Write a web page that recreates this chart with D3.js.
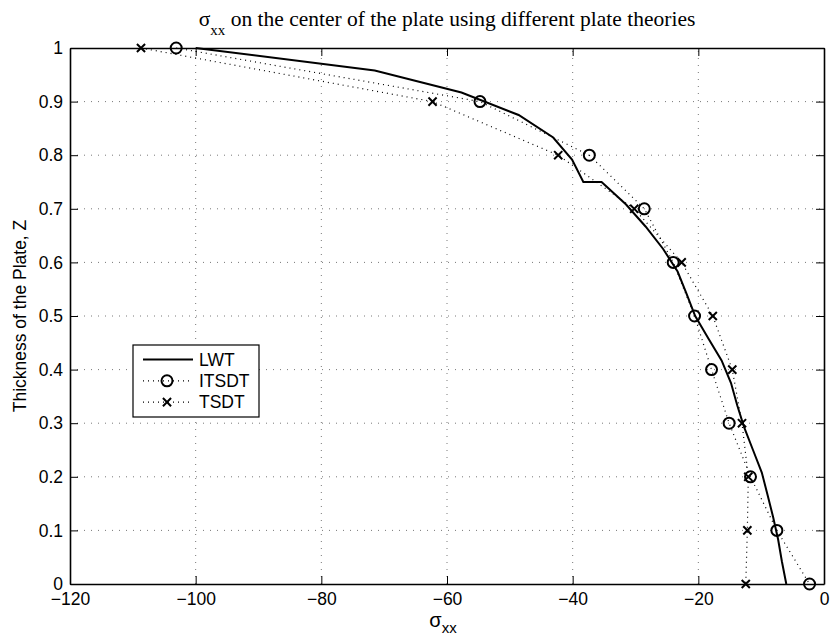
<!DOCTYPE html>
<html>
<head>
<meta charset="utf-8">
<script src="https://cdn.jsdelivr.net/npm/d3@7"></script>
<style>
  body { margin: 0; background: #fff; }
  svg { display: block; }
</style>
</head>
<body>
<div id="content"></div>
<script>
var width = 832, height = 636;

// LWT (solid line)
var lwtZ = [1, 0.958, 0.917, 0.875, 0.833, 0.792, 0.75, 0.75, 0.708, 0.667, 0.625, 0.583, 0.542, 0.5,
  0.458, 0.417, 0.375, 0.333, 0.292, 0.25, 0.208, 0.167, 0.125, 0.083, 0.042, 0];
var lwtS = [-100, -71.5, -57.7, -48.6, -43.1, -40.1, -38.3, -35.4, -31.5, -28.4, -25.6, -23.3, -21.9, -20.5,
  -18.4, -16.3, -14.8, -13.8, -12.7, -11.3, -9.9, -9.0, -8.1, -7.3, -6.7, -6.0];

// ITSDT (dotted, circles) and TSDT (dotted, crosses)
var markZ = [1, 0.9, 0.8, 0.7, 0.6, 0.5, 0.4, 0.3, 0.2, 0.1, 0];
var itsdtS = [-103.1, -54.75, -37.35, -28.6, -24.0, -20.6, -17.9, -15.1, -11.7, -7.5, -2.3];
var tsdtS = [-108.7, -62.3, -42.3, -30.2, -22.65, -17.7, -14.6, -13.05, -12.05, -12.2, -12.45];

var xTicks = [-120, -100, -80, -60, -40, -20, 0];
var yTicks = [0, 0.1, 0.2, 0.3, 0.4, 0.5, 0.6, 0.7, 0.8, 0.9, 1];
var legendNames = ['LWT', 'ITSDT', 'TSDT'];

var svg = d3.select('#content').append('svg')
  .attr('width', width)
  .attr('height', height);

var x = d3.scaleLinear().domain([-120, 0]).range([70, 824]);
var y = d3.scaleLinear().domain([0, 1]).range([584, 48]);

// grid
var grid = svg.append('g');
grid.selectAll('line.gx')
  .data(xTicks.slice(1, -1))
  .enter().append('line')
  .attr('x1', d => x(d)).attr('x2', d => x(d))
  .attr('y1', y(0)).attr('y2', y(1))
  .attr('stroke', '#555').attr('stroke-width', 0.8)
  .attr('stroke-dasharray', '1,6');
grid.selectAll('line.gy')
  .data(yTicks.slice(1, -1))
  .enter().append('line')
  .attr('y1', d => y(d)).attr('y2', d => y(d))
  .attr('x1', x(-120)).attr('x2', x(0))
  .attr('stroke', '#555').attr('stroke-width', 0.8)
  .attr('stroke-dasharray', '1,6');

var line = d3.line()
  .x(d => x(d[0]))
  .y(d => y(d[1]));

var lwtData = lwtS.map((s, i) => [s, lwtZ[i]]);
var itsdtData = itsdtS.map((s, i) => [s, markZ[i]]);
var tsdtData = tsdtS.map((s, i) => [s, markZ[i]]);

svg.append('path')
  .attr('d', line(itsdtData))
  .attr('fill', 'none').attr('stroke', '#000')
  .attr('stroke-width', 1.2).attr('stroke-dasharray', '1,4');
svg.append('path')
  .attr('d', line(tsdtData))
  .attr('fill', 'none').attr('stroke', '#000')
  .attr('stroke-width', 1.2).attr('stroke-dasharray', '1,4');
svg.append('path')
  .attr('d', line(lwtData))
  .attr('fill', 'none').attr('stroke', '#000')
  .attr('stroke-width', 2);

var circleSym = d3.symbol().type(d3.symbolCircle).size(95);
var crossSym = d3.symbol().type(d3.symbolX).size(45);

svg.append('g').selectAll('path')
  .data(itsdtData)
  .enter().append('path')
  .attr('d', circleSym)
  .attr('transform', d => 'translate(' + x(d[0]) + ',' + y(d[1]) + ')')
  .attr('fill', 'none').attr('stroke', '#000').attr('stroke-width', 2);

svg.append('g').selectAll('path')
  .data(tsdtData)
  .enter().append('path')
  .attr('d', crossSym)
  .attr('transform', d => 'translate(' + x(d[0]) + ',' + y(d[1]) + ')')
  .attr('fill', 'none').attr('stroke', '#000').attr('stroke-width', 2);

// axes box with inward ticks
var xAxis = d3.axisBottom(x).tickValues(xTicks).tickSizeInner(-8).tickSizeOuter(0)
  .tickFormat(d => d < 0 ? '\u2212' + Math.abs(d) : d);
var yAxis = d3.axisLeft(y).tickValues(yTicks).tickSizeInner(-8).tickSizeOuter(0)
  .tickFormat(d => d);
var xAxisTop = d3.axisTop(x).tickValues(xTicks).tickSizeInner(-8).tickSizeOuter(0).tickFormat('');
var yAxisRight = d3.axisRight(y).tickValues(yTicks).tickSizeInner(-8).tickSizeOuter(0).tickFormat('');

function styleAxis(g) {
  g.select('.domain').attr('stroke', '#000').attr('stroke-width', 1.6);
  g.selectAll('.tick line').attr('stroke', '#000').attr('stroke-width', 1);
  g.selectAll('.tick text')
    .attr('font-family', 'Liberation Sans, Arial, sans-serif')
    .attr('font-size', 17.5).attr('fill', '#000');
}

svg.append('g').attr('transform', 'translate(0,' + y(0) + ')').call(xAxis).call(styleAxis)
  .selectAll('.tick text').attr('y', 5).attr('dy', '0.9em');
svg.append('g').attr('transform', 'translate(' + x(-120) + ',0)').call(yAxis).call(styleAxis)
  .selectAll('.tick text').attr('x', -7);
svg.append('g').attr('transform', 'translate(0,' + y(1) + ')').call(xAxisTop).call(styleAxis);
svg.append('g').attr('transform', 'translate(' + x(0) + ',0)').call(yAxisRight).call(styleAxis);

// title
var title = svg.append('text')
  .attr('x', (x(-120) + x(0)) / 2).attr('y', 26)
  .attr('text-anchor', 'middle')
  .attr('font-family', 'Liberation Serif, Times New Roman, serif')
  .attr('font-size', 21.5);
title.append('tspan').text('\u03c3');
title.append('tspan').attr('font-size', 15).attr('dy', 9).text('xx');
title.append('tspan').attr('dy', -9).text(' on the center of the plate using different plate theories');

// x label
var xl = svg.append('text')
  .attr('x', (x(-120) + x(0)) / 2 - 4).attr('y', 627)
  .attr('text-anchor', 'middle')
  .attr('font-family', 'Liberation Sans, Arial, sans-serif')
  .attr('font-size', 20);
xl.append('tspan').text('\u03c3');
xl.append('tspan').attr('font-size', 15).attr('dy', 6).text('xx');

// y label
svg.append('text')
  .attr('transform', 'translate(26,' + (y(0) + y(1)) / 2 + ') rotate(-90)')
  .attr('text-anchor', 'middle')
  .attr('font-family', 'Liberation Sans, Arial, sans-serif')
  .attr('font-size', 17.5)
  .text('Thickness of the Plate, Z');

// legend
var lg = svg.append('g').attr('transform', 'translate(133,345)');
lg.append('rect')
  .attr('width', 126).attr('height', 72)
  .attr('fill', '#fff').attr('stroke', '#000').attr('stroke-width', 1.2);
var rows = lg.selectAll('g.row')
  .data(legendNames)
  .enter().append('g')
  .attr('transform', (d, i) => 'translate(0,' + (14.5 + i * 21.3) + ')');
rows.append('line')
  .attr('x1', 10).attr('x2', 60)
  .attr('stroke', '#000')
  .attr('stroke-width', (d, i) => i === 0 ? 2 : 1.2)
  .attr('stroke-dasharray', (d, i) => i === 0 ? null : '1,4');
rows.filter((d, i) => i === 1).append('path')
  .attr('d', circleSym).attr('transform', 'translate(34,0)')
  .attr('fill', 'none').attr('stroke', '#000').attr('stroke-width', 2);
rows.filter((d, i) => i === 2).append('path')
  .attr('d', crossSym).attr('transform', 'translate(34,0)')
  .attr('fill', 'none').attr('stroke', '#000').attr('stroke-width', 2);
rows.append('text')
  .attr('x', 66).attr('dy', '0.36em')
  .attr('font-family', 'Liberation Sans, Arial, sans-serif')
  .attr('font-size', 17.5)
  .text(d => d);
</script>
</body>
</html>
